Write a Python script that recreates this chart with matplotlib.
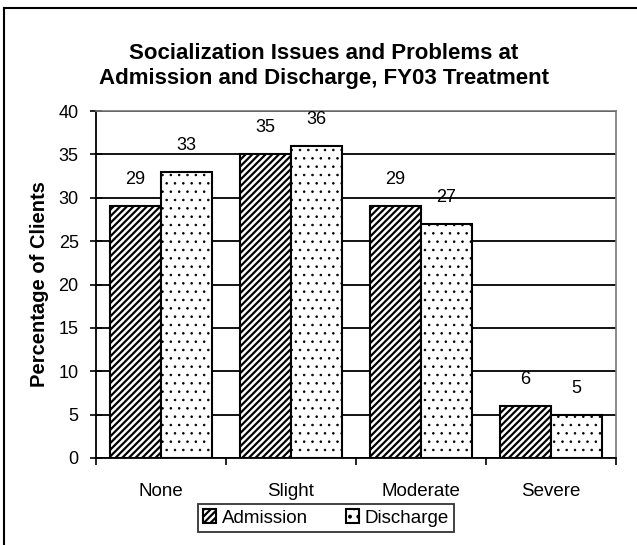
import numpy as np
import matplotlib
matplotlib.use("Agg")
import matplotlib.pyplot as plt
from matplotlib.lines import Line2D

# Данные
categories = ["None", "Slight", "Moderate", "Severe"]
admission = [29, 35, 29, 6]
discharge = [33, 36, 27, 5]
title_lines = ["Socialization Issues and Problems at",
               "Admission and Discharge, FY03 Treatment"]

plt.rcParams["font.family"] = ["Liberation Sans", "DejaVu Sans"]
plt.rcParams["hatch.linewidth"] = 1.6

W, H = 637, 545
fig = plt.figure(figsize=(W / 100, H / 100), dpi=100)
ax = fig.add_axes([96 / W, 1 - 458 / H, (616 - 96) / W, (458 - 111) / H])

x = np.arange(len(categories))
w = 0.39
b1 = ax.bar(x - w / 2, admission, w, color="white", edgecolor="black",
            hatch="/////", linewidth=1.5, zorder=3)
b2 = ax.bar(x + w / 2, discharge, w, color="white", edgecolor="black",
            hatch="..", linewidth=1.5, zorder=3)
for r in b2:
    if hasattr(r, "set_hatch_linewidth"):
        r.set_hatch_linewidth(0.6)

for bars in (b1, b2):
    for r in bars:
        ax.annotate(f"{r.get_height():g}", (r.get_x() + r.get_width() / 2, r.get_height()),
                    xytext=(0, 13), textcoords="offset points", ha="center", va="bottom",
                    fontsize=13)

ax.set_xlim(-0.5, 3.5)
ax.set_ylim(0, 40)
ax.set_yticks(range(0, 41, 5))
ax.set_xticks(x)
ax.set_xticklabels(categories, fontsize=13.5)
ax.tick_params(axis="y", labelsize=13, direction="inout", length=9, width=1.2, pad=8)
ax.tick_params(axis="x", length=0, pad=18)
ax.yaxis.grid(True, color="black", linewidth=1.3, zorder=0)
ax.set_axisbelow(True)
for s in ["top", "right"]:
    ax.spines[s].set_color("#777777")
    ax.spines[s].set_linewidth(1.2)
ax.spines["left"].set_linewidth(1.3)
ax.spines["bottom"].set_linewidth(1.3)
# засечки между категориями
ax.set_xticks(np.arange(-0.5, 4, 1), minor=True)
ax.tick_params(axis="x", which="minor", length=5, width=1.2)

ax.set_ylabel("Percentage of Clients", fontsize=14.5, fontweight="bold", labelpad=7)

# заголовок в две строки
fig.text(324 / W, 1 - 59 / H, title_lines[0], ha="center", va="baseline",
         fontsize=16, fontweight="bold")
fig.text(324 / W, 1 - 84 / H, title_lines[1], ha="center", va="baseline",
         fontsize=16, fontweight="bold")

leg = fig.legend([b1, b2], ["Admission", "Discharge"], loc="center", ncol=2,
                 bbox_to_anchor=(326 / W, 1 - 518 / H), fontsize=13.5, frameon=True,
                 fancybox=False, edgecolor="black", handlelength=0.7, handleheight=0.7,
                 handletextpad=0.3, columnspacing=2.0, borderpad=0.3)
leg.get_frame().set_linewidth(1.3)

# рамка (видны только левая и верхняя стороны)
fig.add_artist(Line2D([4 / W, 4 / W], [0, 1 - 8 / H], transform=fig.transFigure,
                      color="black", linewidth=1.5))
fig.add_artist(Line2D([4 / W, 1], [1 - 8 / H, 1 - 8 / H], transform=fig.transFigure,
                      color="black", linewidth=1.5))

fig.savefig("out.png", dpi=100)
